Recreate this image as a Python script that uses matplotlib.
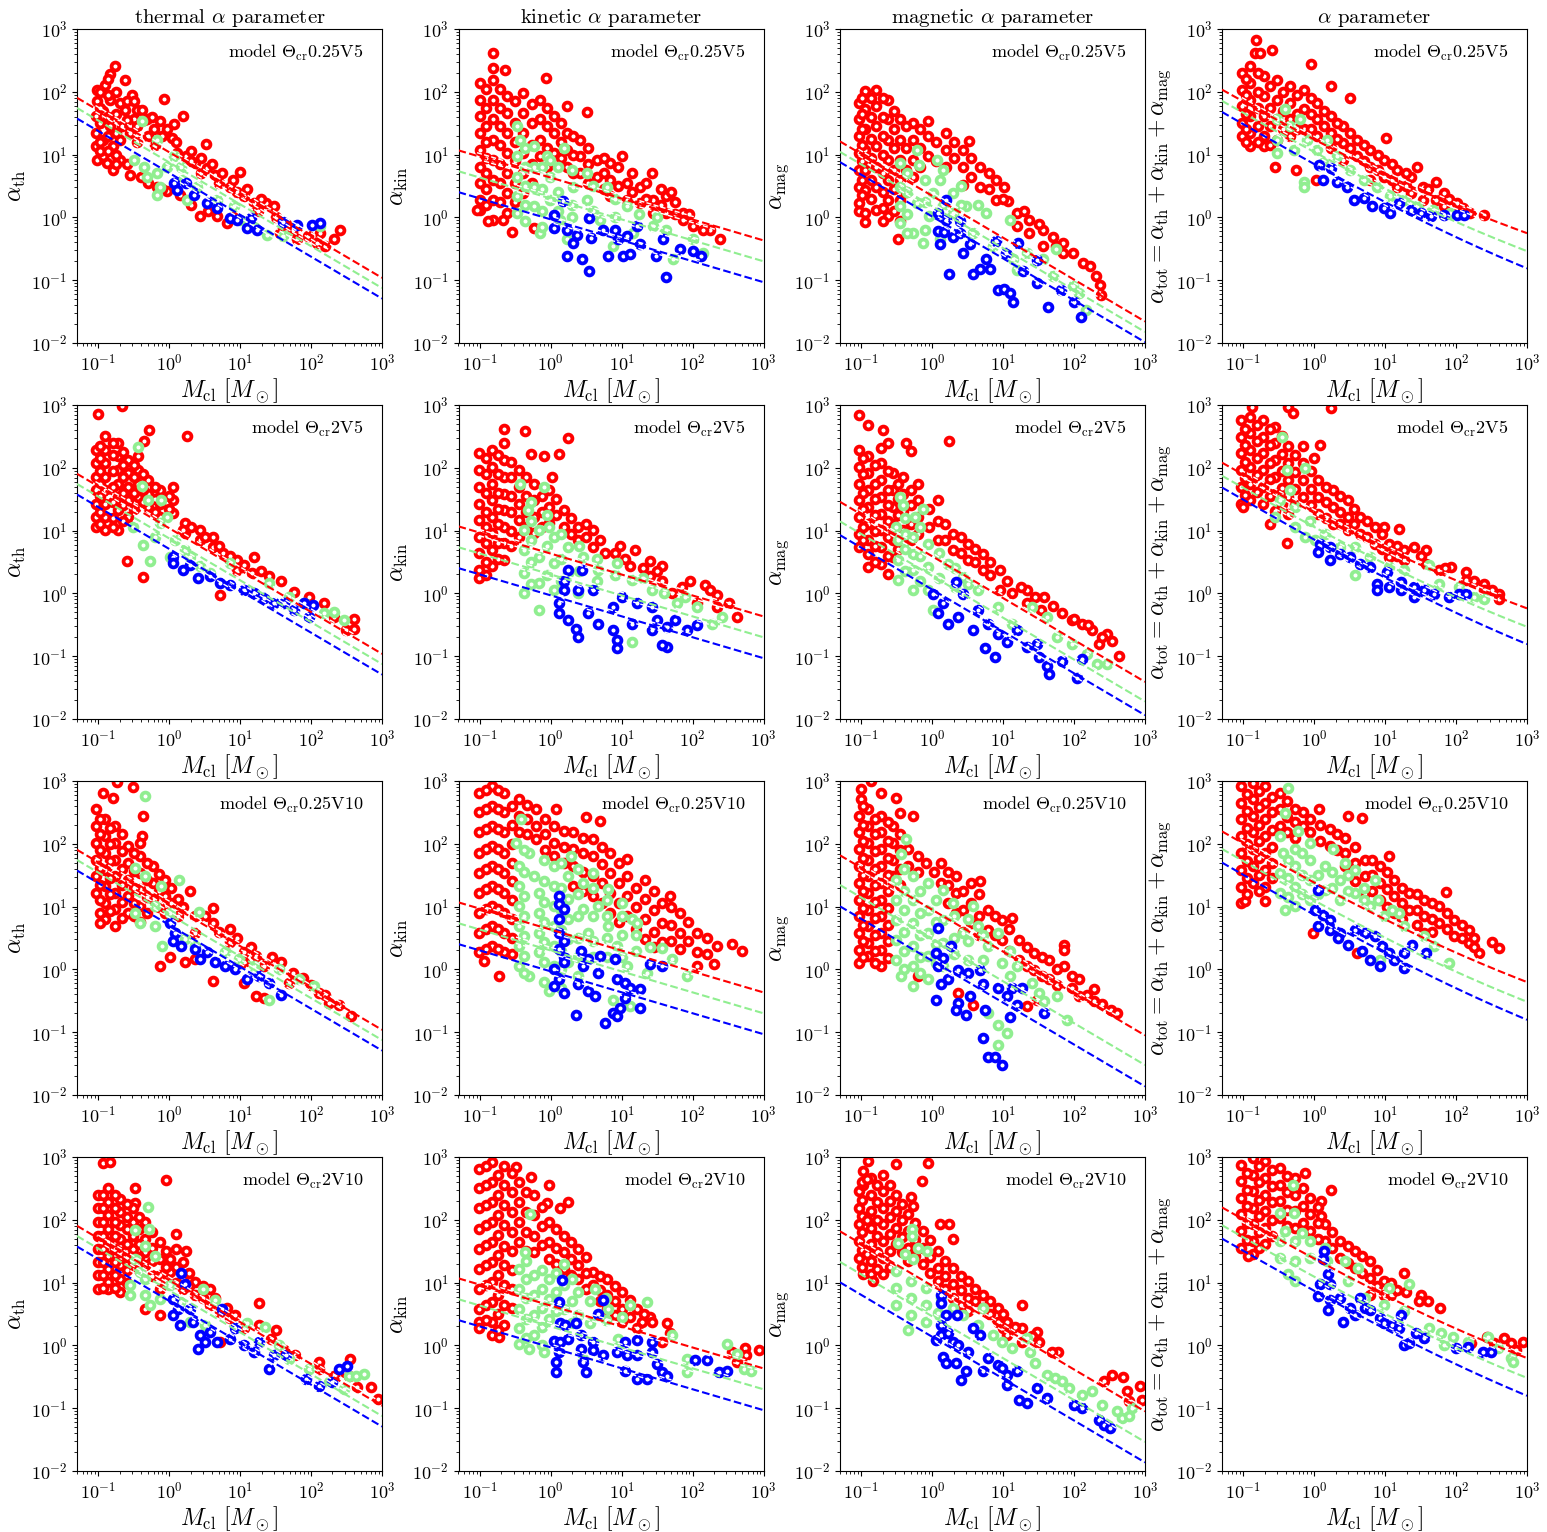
import numpy as np
import matplotlib
matplotlib.use('Agg')
import matplotlib.pyplot as plt

plt.rcParams['font.family'] = 'serif'
plt.rcParams['font.serif'] = ['cmr10']
plt.rcParams['mathtext.fontset'] = 'cm'
plt.rcParams['axes.formatter.use_mathtext'] = True

# 読み取ったデータ (log10 M, log10 alpha)
# ---- row 1 : model Theta_cr 0.25 V5
th1_red = [(-0.76,2.41),(-0.83,2.29),(-0.62,2.19),(-1.02,2.03),(-0.90,2.11),(-1.02,1.85),(-0.83,1.87),(-0.53,1.95),(-0.69,1.82),(-0.62,1.71),(-0.46,1.71),(-0.38,1.71),(-0.08,1.88),(0.20,1.61),(0.06,1.48),(-0.13,1.53),(-0.31,1.56),(-0.50,1.56),(-0.22,1.40),(-0.03,1.40),(0.04,1.26),(0.52,1.17),(-1.04,1.61),(-1.04,1.34),(-1.04,1.13),(-1.02,0.92),(-0.88,0.87),(-0.79,0.76),(-0.93,0.97),(-0.69,0.92),(-0.55,0.68),(-0.79,1.13),(-0.69,1.24),(-0.93,1.24),(-0.83,1.45),(-0.67,1.45),(0.11,1.03),(0.23,0.97),(0.37,0.87),(0.53,0.79),(0.65,0.68),(0.86,0.49),(1.00,0.73),(1.05,0.34),(1.19,0.23),(1.36,0.23),(1.47,0.18),(0.67,0.02),(1.56,-0.25),(1.80,-0.35),(2.08,-0.41),(2.32,-0.35),(2.41,-0.20),(1.75,-0.20),(2.13,-0.25),(-0.03,0.42),(-0.17,0.49),(0.44,0.02),(0.81,-0.09),(-0.93,1.70),(-0.55,1.35),(-0.45,1.20),(-0.30,1.30),(-0.20,1.15),(0.30,0.90),(0.45,0.70),(0.70,0.55),(0.95,0.40),(1.25,0.10),(1.50,0.00),(1.65,-0.10),(1.95,-0.30),(2.20,-0.45)]
th1_red_extra = [(-0.97,2.0),(-0.97,1.75),(-0.97,1.5),(-0.97,1.2),(-0.97,1.05),(-0.87,2.2),(-0.87,1.95),(-0.87,1.6),(-0.87,1.3),(-0.87,1.05),(-0.75,2.0),(-0.75,1.65),(-0.75,1.35),(-0.75,1.0),(-0.75,0.85),(-0.6,1.85),(-0.6,1.55),(-0.6,0.85),(-0.5,1.85),(-0.45,1.45),(-0.35,1.55),(-0.25,1.6),(-0.1,1.3),(0.1,1.2),(0.3,1.05),(0.45,0.95),(0.6,0.85),(0.75,0.7),(0.9,0.6),(1.1,0.45),(1.3,0.3),(-0.4,0.65),(-0.3,0.55),(-0.1,0.45),(0.15,0.35),(0.3,0.2),(0.55,0.1),(0.9,0.0)]
th1_green = [(-0.38,1.53),(-0.17,1.24),(-0.50,0.92),(-0.36,0.81),(-0.17,0.71),(-0.13,0.49),(-0.17,0.36),(-0.03,0.81),(-0.31,0.65),(0.20,0.60),(0.25,0.28),(0.39,0.49),(0.67,0.28),(0.91,0.18),(1.00,-0.04),(1.38,-0.28),(1.61,-0.30),(2.13,-0.14),(1.19,-0.14),(0.06,0.97),(0.16,0.81)]
th1_blue = [(0.06,0.55),(0.23,0.55),(0.11,0.44),(0.35,0.36),(0.53,0.23),(0.67,0.15),(0.86,-0.01),(0.96,-0.04),(1.10,-0.17),(1.15,-0.01),(1.24,-0.20),(1.61,-0.07),(1.80,-0.12),(2.01,-0.12),(2.13,-0.09)]

kin1_red = [(-0.82,2.61),(-0.82,2.38),(-0.64,2.35),(-0.07,2.22),(0.23,1.78),(0.51,1.68),
    (-1.0,2.14),(-1.0,1.87),(-1.0,1.61),(-1.0,1.34),(-1.0,1.08),(-1.0,0.81),(-1.0,0.55),(-1.0,0.28),(-1.0,0.12),
    (-0.81,2.19),(-0.81,1.87),(-0.81,1.56),(-0.81,1.24),(-0.81,0.92),(-0.81,0.60),(-0.81,0.28),(-0.81,-0.04),
    (-0.62,1.93),(-0.62,1.66),(-0.62,1.34),(-0.62,1.03),(-0.62,0.71),(-0.62,0.39),(-0.62,0.07),
    (-0.39,1.98),(-0.39,1.66),(-0.39,1.34),(-0.39,1.03),(-0.39,0.71),(-0.39,0.39),
    (-0.15,1.87),(-0.15,1.56),(-0.15,1.24),(-0.15,0.97),(0.04,1.61),(0.04,1.34),(0.04,1.03),
    (0.23,1.34),(0.23,1.08),(0.23,0.81),(0.41,1.24),(0.41,0.97),(0.41,0.71),(0.65,0.92),(0.65,0.65),
    (0.84,0.87),(0.84,0.60),(0.84,0.34),(1.01,0.97),(1.07,0.55),(1.07,0.28),(1.26,0.49),(1.26,0.23),
    (1.43,0.71),(1.44,0.28),(1.44,0.07),(1.63,0.34),(1.63,0.07),(1.70,0.40),(1.87,0.07),(1.87,-0.04),
    (2.01,-0.14),(2.24,-0.20),(2.38,-0.35),(-0.55,-0.24),(-0.88,-0.05),(-0.68,-0.04),(-0.24,-0.17),(-1.04,0.12)]
kin1_red_extra = [(-0.92,2.05),(-0.92,1.75),(-0.92,1.45),(-0.92,1.2),(-0.92,0.95),(-0.92,0.7),(-0.92,0.45),(-0.92,0.2),
    (-0.72,2.05),(-0.72,1.75),(-0.72,1.45),(-0.72,1.15),(-0.72,0.85),(-0.72,0.55),(-0.72,0.25),
    (-0.5,1.85),(-0.5,1.5),(-0.5,1.2),(-0.5,0.9),(-0.5,0.55),(-0.5,0.25),(-0.27,1.8),(-0.27,1.5),(-0.27,1.15),(-0.27,0.85),(-0.27,0.55),
    (-0.05,1.75),(-0.05,1.45),(-0.05,1.1),(-0.05,0.8),(0.14,1.5),(0.14,1.2),(0.14,0.95),(0.32,1.3),(0.32,1.0),(0.32,0.7),
    (0.53,1.1),(0.53,0.85),(0.53,0.55),(0.75,0.95),(0.75,0.7),(0.75,0.45),(0.95,0.8),(0.95,0.5),(1.15,0.7),(1.15,0.4),
    (1.35,0.55),(1.35,0.3),(1.55,0.45),(1.55,0.2),(1.75,0.25),(1.75,0.05),(1.95,0.05),(2.15,-0.2)]
kin1_green = [(-0.48,1.45),(-0.43,1.24),(-0.24,1.13),(-0.06,0.97),(0.18,1.11),(-0.48,0.97),(-0.48,0.65),(-0.48,0.34),(-0.48,0.07),(-0.24,0.81),(-0.24,0.49),(-0.24,0.18),(-0.15,-0.25),(-0.01,0.65),(-0.01,0.28),(0.13,-0.04),(0.23,-0.35),(0.32,0.49),(0.51,0.28),(0.69,-0.04),(0.88,-0.46),(1.07,0.18),(1.16,-0.25),(1.44,-0.14),(1.63,-0.20),(1.72,-0.67),(2.01,-0.35),(2.15,-0.57),(0.51,0.71),(0.79,0.49),(-0.01,0.92)]
kin1_green_extra = [(-0.36,1.1),(-0.36,0.8),(-0.36,0.5),(-0.36,0.2),(-0.36,-0.05),(-0.12,0.8),(-0.12,0.45),(-0.12,0.1),(-0.12,-0.15),(0.1,0.8),(0.1,0.4),(0.1,0.1),(0.3,0.75),(0.3,0.2),(0.3,0.0),(0.6,0.5),(0.6,0.1),(0.9,0.3),(0.9,0.0),(1.25,0.05),(1.5,0.0)]
kin1_blue = [(0.17,0.26),(0.04,0.04),(0.04,-0.17),(0.23,-0.20),(0.32,-0.41),(0.23,-0.62),(0.44,-0.67),(0.54,-0.86),(0.54,-0.01),(0.57,-0.33),(0.74,-0.20),(0.81,-0.61),(0.90,-0.20),(0.95,-0.35),(1.02,-0.62),(1.12,-0.59),(1.08,-0.29),(1.21,-0.13),(1.26,-0.43),(1.49,-0.61),(1.58,-0.35),(1.63,-0.95),(1.82,-0.51),(2.01,-0.54),(2.12,-0.61),(0.37,-0.28)]

mag1_red = [(-1.04,1.82),(-1.04,1.56),(-1.04,1.29),(-1.04,1.03),(-1.04,0.76),(-1.04,0.49),(-1.04,0.23),(-1.04,0.10),
    (-0.95,2.01),(-0.95,1.72),(-0.95,1.40),(-0.95,1.08),(-0.95,0.76),(-0.95,0.44),(-0.95,0.07),
    (-0.79,2.03),(-0.79,1.77),(-0.79,1.45),(-0.79,1.13),(-0.79,0.81),(-0.79,0.49),(-0.79,0.12),
    (-0.62,1.87),(-0.62,1.56),(-0.62,1.24),(-0.62,0.92),(-0.62,0.60),(-0.62,0.28),(-0.62,0.02),
    (-0.46,1.56),(-0.46,1.24),(-0.46,0.92),(-0.46,0.60),(-0.46,0.28),(-0.46,-0.06),
    (-0.27,1.50),(-0.27,1.24),(-0.27,0.92),(-0.27,0.65),(-0.06,1.53),(-0.06,1.29),(-0.06,0.97),
    (0.20,1.34),(0.20,1.08),(0.20,0.81),(0.44,1.08),(0.44,0.81),(0.44,0.52),(0.52,1.21),
    (0.67,0.81),(0.67,0.49),(0.90,0.60),(0.90,0.28),(1.01,0.48),(1.07,0.26),(1.19,0.07),(1.19,-0.14),
    (1.37,-0.04),(1.37,-0.25),(1.56,-0.20),(1.56,-0.46),(1.70,-0.31),(1.84,-0.41),(1.84,-0.57),(1.98,-0.57),
    (2.12,-0.73),(2.22,-0.78),(2.31,-0.94),(2.36,-1.07),(2.38,-1.23),(-0.95,-0.08),(-0.69,-0.06),(-0.48,-0.34)]
mag1_red_extra = [(-0.99,1.9),(-0.99,1.65),(-0.99,1.4),(-0.99,1.15),(-0.99,0.9),(-0.99,0.6),(-0.99,0.35),
    (-0.87,1.9),(-0.87,1.6),(-0.87,1.25),(-0.87,0.95),(-0.87,0.6),(-0.87,0.3),
    (-0.7,1.9),(-0.7,1.6),(-0.7,1.3),(-0.7,1.0),(-0.7,0.7),(-0.7,0.4),(-0.7,0.15),
    (-0.54,1.7),(-0.54,1.4),(-0.54,1.1),(-0.54,0.75),(-0.54,0.45),(-0.54,0.1),(-0.37,1.45),(-0.37,1.1),(-0.37,0.75),(-0.37,0.4),
    (-0.17,1.4),(-0.17,1.1),(-0.17,0.8),(0.05,1.2),(0.05,0.9),(0.3,1.2),(0.3,0.95),(0.55,0.95),(0.55,0.65),(0.8,0.7),(0.8,0.45),
    (1.0,0.3),(1.3,0.1),(1.5,-0.1),(1.75,-0.45)]
mag1_green = [(-0.22,1.08),(-0.46,0.87),(-0.18,0.84),(0.06,0.92),(0.11,0.60),(-0.46,0.49),(-0.46,0.18),(-0.46,-0.09),(-0.27,-0.25),(-0.13,-0.41),(-0.22,0.23),(-0.04,0.02),(0.01,0.39),(0.29,0.39),(0.29,0.07),(0.48,0.18),(0.57,-0.25),(0.76,0.07),(0.86,-0.46),(1.09,-0.04),(1.14,-0.67),(1.19,-0.83),(1.33,-0.57),(1.56,-0.67),(1.75,-0.51),(1.70,-0.94),(1.98,-1.10),(2.07,-1.20),(2.17,-1.47),(0.11,-0.35),(-0.36,-0.25)]
mag1_green_extra = [(-0.35,0.7),(-0.35,0.4),(-0.35,0.05),(-0.1,0.6),(-0.1,0.25),(-0.1,-0.2),(0.15,0.75),(0.15,0.2),(0.4,0.5),(0.4,0.2),(0.65,0.2)]
mag1_blue = [(0.20,0.28),(0.08,0.07),(0.20,-0.04),(0.39,-0.06),(0.08,-0.22),(0.16,-0.24),(0.11,-0.43),(0.29,-0.31),(0.39,-0.25),(0.24,-0.90),(0.44,-0.57),(0.53,-0.43),(0.57,-0.90),(0.67,-0.82),(0.76,-0.67),(0.81,-0.82),(0.90,-0.38),(0.93,-1.15),(1.01,-1.14),(1.04,-0.56),(1.09,-1.20),(1.14,-1.34),(1.21,-0.41),(1.28,-0.86),(1.47,-1.04),(1.63,-1.42),(1.82,-1.15),(2.00,-1.34),(2.10,-1.58),(1.47,-0.68)]

tot1_red = [(-0.82,2.83),(-0.83,2.62),(-0.60,2.67),(-0.76,2.61),(-0.05,2.44),(0.23,2.09),(0.51,1.90),(1.01,1.26),
    (-1.02,2.30),(-1.02,2.03),(-1.02,1.77),(-1.02,1.50),(-1.02,1.29),
    (-0.90,2.41),(-0.90,2.14),(-0.90,1.87),(-0.90,1.61),(-0.90,1.34),(-0.90,1.13),
    (-0.71,2.25),(-0.71,1.93),(-0.71,1.61),(-0.71,1.29),(-0.71,1.13),
    (-0.53,2.19),(-0.53,1.87),(-0.53,1.56),(-0.53,1.24),(-0.34,2.09),(-0.34,1.82),(-0.34,1.56),(-0.34,1.29),
    (-0.15,2.03),(-0.15,1.72),(-0.15,1.40),(0.04,1.82),(0.04,1.56),(0.04,1.29),(0.23,1.61),(0.23,1.34),(0.23,1.11),
    (0.41,1.45),(0.41,1.18),(0.41,0.92),(0.60,1.24),(0.60,0.97),(0.79,1.08),(0.79,0.81),(0.79,0.60),
    (0.98,0.92),(0.98,0.65),(1.17,0.76),(1.17,0.49),(1.36,0.65),(1.36,0.39),(1.45,0.81),(1.54,0.49),(1.54,0.28),
    (1.71,0.57),(1.71,0.28),(1.83,0.39),(1.83,0.18),(2.01,0.23),(2.01,0.07),(2.20,0.07),(2.39,0.04),
    (-0.55,0.81),(-0.26,0.75),(0.02,0.60)]
tot1_red_extra = [(-0.96,2.2),(-0.96,1.95),(-0.96,1.65),(-0.96,1.4),(-0.96,1.2),(-0.8,2.3),(-0.8,2.0),(-0.8,1.75),(-0.8,1.45),(-0.8,1.2),
    (-0.62,2.1),(-0.62,1.75),(-0.62,1.45),(-0.62,1.15),(-0.44,2.0),(-0.44,1.7),(-0.44,1.4),(-0.25,1.95),(-0.25,1.65),(-0.25,1.4),
    (-0.05,1.9),(-0.05,1.65),(-0.05,1.4),(0.14,1.7),(0.14,1.45),(0.32,1.5),(0.32,1.25),(0.5,1.35),(0.5,1.1),(0.7,1.15),(0.7,0.9),
    (0.9,1.0),(0.9,0.75),(1.1,0.85),(1.1,0.6),(1.3,0.7),(1.3,0.5),(1.6,0.45),(1.9,0.3),(2.1,0.15)]
tot1_green = [(-0.41,1.72),(-0.53,1.56),(-0.53,1.24),(-0.53,1.03),(-0.34,1.45),(-0.20,1.56),(-0.29,1.08),(-0.10,1.24),(-0.15,0.57),(-0.15,0.48),(0.04,1.08),(0.18,1.24),(0.13,0.87),(0.32,0.97),(0.51,0.76),(0.70,0.60),(0.89,0.49),(1.07,0.34),(1.26,0.28),(1.45,0.18),(1.68,0.12),(1.92,0.07)]
tot1_blue = [(0.06,0.84),(0.23,0.79),(0.13,0.60),(0.32,0.57),(0.46,0.49),(0.56,0.28),(0.70,0.31),(0.81,0.18),(0.98,0.15),(1.07,0.07),(1.19,0.23),(1.36,0.12),(1.50,0.07),(1.64,0.02),(1.83,0.04),(2.01,0.04),(2.11,0.04)]

# ---- row 2 : model Theta_cr 2 V5
th2_red = [(-1.01,2.86),(-0.67,2.99),(-0.29,2.60),(0.25,2.50),(-0.36,2.43),
    (-1.04,2.28),(-1.04,2.07),(-1.04,1.86),(-1.04,1.65),(-1.04,1.43),(-1.04,1.22),(-1.04,1.06),
    (-0.90,2.50),(-0.90,2.28),(-0.90,2.07),(-0.90,1.86),(-0.90,1.65),(-0.90,1.43),(-0.90,1.22),(-0.90,1.01),
    (-0.72,2.39),(-0.72,2.18),(-0.72,1.96),(-0.72,1.75),(-0.72,1.54),(-0.72,1.33),(-0.72,1.01),
    (-0.58,2.12),(-0.58,1.91),(-0.58,1.70),(-0.58,1.49),(-0.58,1.22),(-0.44,2.18),(-0.44,1.96),(-0.44,1.75),(-0.44,1.54),
    (-0.30,1.81),(-0.30,1.59),(-0.30,1.38),(-0.13,1.65),(-0.13,1.43),(-0.13,1.22),(0.05,1.70),(0.05,1.49),(0.05,1.28),
    (0.22,1.12),(0.22,0.96),(0.43,1.01),(0.43,0.85),(0.61,0.90),(0.61,0.74),(0.76,0.65),(0.95,0.53),(0.95,0.37),
    (1.20,0.58),(1.16,0.32),(1.41,0.27),(1.58,0.20),(1.76,0.03),(1.97,-0.05),(2.18,-0.16),(2.32,-0.37),(2.49,-0.58),
    (2.60,-0.41),(2.60,-0.56),(-0.60,0.52),(-0.37,0.26),(0.71,-0.02),(0.19,1.01)]
th2_red_extra = [(-0.97,2.35),(-0.97,2.15),(-0.97,1.95),(-0.97,1.75),(-0.97,1.55),(-0.97,1.3),(-0.97,1.1),
    (-0.8,2.4),(-0.8,2.2),(-0.8,1.95),(-0.8,1.7),(-0.8,1.45),(-0.8,1.2),(-0.8,1.05),
    (-0.65,2.25),(-0.65,2.05),(-0.65,1.85),(-0.65,1.6),(-0.65,1.4),(-0.65,1.15),(-0.5,2.05),(-0.5,1.85),(-0.5,1.6),(-0.5,1.35),
    (-0.37,1.9),(-0.37,1.65),(-0.37,1.45),(-0.2,1.7),(-0.2,1.5),(-0.2,1.3),(0.0,1.55),(0.0,1.35),(0.3,1.05),(0.5,0.9),(0.7,0.75),(0.85,0.6),(1.05,0.45),(1.3,0.35)]
th2_green = [(-0.44,2.33),(-0.39,1.71),(-0.30,1.49),(-0.12,1.49),(-0.03,1.22),(-0.51,1.06),(-0.37,0.77),(-0.27,0.51),(-0.13,1.12),(-0.20,0.90),(0.08,0.85),(0.29,0.58),(0.43,0.43),(0.57,0.32),(0.85,0.48),(1.41,0.16),(1.69,-0.05),(1.90,-0.16),(2.18,-0.32),(2.32,-0.29),(2.46,-0.42),(0.22,0.69),(0.01,0.58)]
th2_blue = [(0.05,0.58),(0.05,0.48),(0.19,0.37),(0.29,0.45),(0.40,0.24),(0.57,0.27),(0.71,0.16),(0.85,0.13),(1.06,0.05),(1.20,0.00),(1.34,-0.08),(1.48,-0.16),(1.62,-0.16),(1.76,-0.26),(1.90,-0.16),(2.03,-0.18),(1.97,-0.37)]

kin2_red = [(-0.66,2.62),(-0.37,2.58),(0.25,2.48),(0.11,2.22),(-0.09,2.18),(-0.28,2.22),(0.02,1.85),
    (-1.01,2.23),(-1.01,1.96),(-1.01,1.70),(-1.01,1.43),(-1.01,1.17),(-1.01,0.90),(-1.01,0.64),(-1.01,0.37),(-1.01,0.25),
    (-0.83,2.28),(-0.83,2.02),(-0.83,1.75),(-0.83,1.49),(-0.83,1.22),(-0.83,0.96),(-0.83,0.69),(-0.83,0.43),
    (-0.66,2.39),(-0.66,2.12),(-0.66,1.86),(-0.66,1.59),(-0.66,1.33),(-0.66,1.06),(-0.66,0.80),(-0.66,0.53),
    (-0.45,1.96),(-0.45,1.70),(-0.45,1.43),(-0.45,1.17),(-0.45,0.90),(-0.24,1.75),(-0.24,1.49),(-0.24,1.22),(-0.24,0.96),
    (-0.03,1.65),(-0.03,1.38),(-0.03,1.12),(0.18,1.33),(0.18,1.06),(0.39,1.06),(0.39,0.85),(0.60,1.01),(0.60,0.74),
    (0.77,0.64),(0.98,0.75),(1.19,0.69),(1.12,0.43),(1.40,0.51),(1.40,0.27),(1.57,0.43),(1.57,0.19),(1.71,0.00),
    (1.96,0.19),(2.17,0.14),(2.34,-0.03),(2.51,-0.16),(2.62,-0.37),(2.34,-0.21),(2.06,-0.16)]
kin2_red_extra = [(-0.92,2.15),(-0.92,1.9),(-0.92,1.6),(-0.92,1.3),(-0.92,1.05),(-0.92,0.8),(-0.92,0.5),(-0.92,0.3),
    (-0.75,2.2),(-0.75,1.9),(-0.75,1.6),(-0.75,1.35),(-0.75,1.1),(-0.75,0.8),(-0.75,0.55),
    (-0.56,2.1),(-0.56,1.85),(-0.56,1.55),(-0.56,1.3),(-0.56,1.0),(-0.56,0.75),(-0.35,1.85),(-0.35,1.55),(-0.35,1.3),(-0.35,1.05),
    (-0.13,1.55),(-0.13,1.3),(-0.13,1.05),(0.08,1.5),(0.08,1.25),(0.28,1.2),(0.28,0.95),(0.5,1.1),(0.5,0.9),(0.7,0.85),(0.9,0.65),
    (1.05,0.55),(1.3,0.4),(1.5,0.35),(1.85,0.1),(2.25,0.05)]
kin2_green = [(-0.43,1.75),(-0.10,1.70),(-0.32,1.33),(-0.38,1.01),(-0.38,0.69),(-0.38,0.32),(-0.38,0.00),(-0.17,-0.26),(-0.17,1.01),(-0.17,0.58),(-0.17,0.16),(0.04,0.90),(0.04,0.48),(0.04,0.05),(0.25,0.74),(0.25,0.32),(0.46,0.58),(0.67,0.37),(0.94,0.48),(1.15,0.21),(1.43,0.05),(1.15,-0.77),(1.78,-0.16),(2.06,-0.21),(2.27,-0.48),(2.41,-0.37),(0.39,0.00),(-0.03,1.06)]
kin2_green_extra = [(-0.28,1.45),(-0.28,1.15),(-0.28,0.85),(-0.28,0.5),(-0.28,0.15),(-0.06,1.25),(-0.06,0.75),(-0.06,0.3),(0.15,0.95),(0.15,0.55),(0.15,0.2),(0.4,0.75),(0.4,0.35),(0.65,0.55),(0.65,0.2),(0.9,0.3),(1.3,0.25),(1.6,0.0),(1.9,-0.05)]
kin2_blue = [(0.25,0.37),(0.44,0.37),(0.18,0.19),(0.18,0.05),(0.39,0.05),(0.60,0.05),(0.11,-0.16),(0.11,-0.32),(0.25,-0.42),(0.36,-0.56),(0.39,-0.69),(0.53,-0.32),(0.67,-0.48),(0.88,-0.58),(0.94,-0.74),(0.94,-0.87),(1.01,-0.05),(1.15,-0.48),(1.22,-0.16),(1.43,-0.58),(1.50,-0.42),(1.64,-0.53),(1.64,-0.85),(1.75,-0.42),(1.92,-0.58),(2.06,-0.50),(1.57,-0.82),(1.43,-0.21),(0.88,-0.21)]

mag2_red = [(-1.04,2.84),(-0.90,2.68),(-0.69,2.60),(-0.62,2.39),(-0.37,2.39),(-0.30,2.26),(0.24,2.43),(-0.72,2.31),
    (-1.04,2.28),(-1.04,2.02),(-1.04,1.75),(-1.04,1.48),(-1.04,1.22),(-1.04,0.95),(-1.04,0.74),
    (-0.90,2.18),(-0.90,1.91),(-0.90,1.64),(-0.90,1.38),(-0.90,1.11),(-0.90,0.85),(-0.90,0.63),(-0.90,0.42),
    (-0.72,2.07),(-0.72,1.80),(-0.72,1.54),(-0.72,1.27),(-0.72,1.01),(-0.72,0.74),(-0.72,0.47),
    (-0.55,1.91),(-0.55,1.64),(-0.55,1.38),(-0.55,1.11),(-0.55,0.85),(-0.55,0.58),(-0.62,0.31),
    (-0.41,1.86),(-0.41,1.59),(-0.41,1.32),(-0.41,1.01),(-0.41,0.79),(-0.20,1.75),(-0.20,1.48),(-0.20,1.22),(-0.20,0.95),
    (0.08,1.48),(0.08,1.16),(0.08,0.85),(0.29,0.95),(0.29,0.69),(0.50,0.79),(0.50,0.53),(0.71,0.63),(0.71,0.37),
    (0.95,0.37),(0.95,0.05),(1.13,0.00),(1.34,0.05),(1.34,-0.16),(1.58,-0.06),(1.83,-0.32),(1.97,-0.43),(2.11,-0.48),
    (2.25,-0.59),(2.46,-0.64),(2.53,-0.75),(2.63,-0.99),(2.35,-0.80),(1.54,-0.27)]
mag2_red_extra = [(-0.97,2.15),(-0.97,1.9),(-0.97,1.6),(-0.97,1.35),(-0.97,1.05),(-0.97,0.85),
    (-0.81,2.05),(-0.81,1.75),(-0.81,1.5),(-0.81,1.25),(-0.81,1.0),(-0.81,0.75),(-0.81,0.5),
    (-0.63,1.95),(-0.63,1.65),(-0.63,1.4),(-0.63,1.15),(-0.63,0.9),(-0.63,0.6),(-0.48,1.75),(-0.48,1.5),(-0.48,1.25),(-0.48,0.95),(-0.48,0.7),
    (-0.3,1.65),(-0.3,1.4),(-0.3,1.1),(-0.3,0.85),(-0.05,1.35),(-0.05,1.05),(0.18,1.1),(0.18,0.85),(0.4,0.9),(0.4,0.65),(0.6,0.7),(0.6,0.5),
    (0.82,0.5),(0.82,0.3),(1.05,0.2),(1.25,0.1),(1.45,-0.05),(1.7,-0.2),(2.0,-0.4),(2.2,-0.5),(2.4,-0.7)]
mag2_green = [(-0.46,1.54),(-0.41,1.40),(-0.25,1.22),(-0.13,1.35),(-0.51,1.06),(-0.48,0.85),(-0.48,0.53),(-0.48,0.21),(-0.27,0.90),(-0.27,0.63),(-0.27,0.37),(-0.27,0.05),(-0.06,0.79),(-0.06,0.42),(-0.06,0.05),(0.01,-0.27),(0.22,0.47),(0.43,0.26),(0.64,0.05),(0.92,-0.22),(1.13,-0.48),(1.41,-0.22),(1.62,-0.38),(1.76,-0.70),(1.97,-0.80),(2.18,-0.96),(2.32,-1.12),(2.46,-1.12),(0.50,0.15)]
mag2_green_extra = [(-0.38,1.2),(-0.38,0.95),(-0.38,0.7),(-0.38,0.35),(-0.17,1.05),(-0.17,0.6),(-0.17,0.2),(0.1,0.65),(0.1,0.25),(0.32,0.4),(0.32,0.1)]
mag2_blue = [(0.33,0.18),(0.01,-0.01),(0.15,-0.16),(0.43,-0.01),(0.08,-0.32),(0.22,-0.48),(0.36,-0.38),(0.57,-0.59),(0.64,-0.27),(0.78,-0.48),(0.92,-0.64),(0.74,-0.87),(0.88,-1.01),(1.06,-0.78),(1.20,-0.59),(1.34,-0.86),(1.51,-1.02),(1.62,-1.15),(1.65,-1.28),(1.83,-1.07),(2.11,-1.04),(2.04,-1.34),(1.48,-0.80)]

tot2_red = [(-0.88,2.97),(-0.37,2.97),(-0.30,2.87),(0.24,2.95),(0.08,2.36),(0.00,2.15),(0.99,1.06),(1.20,1.03),
    (-1.04,2.76),(-1.04,2.49),(-1.04,2.23),(-1.04,1.96),(-1.04,1.70),(-1.04,1.43),
    (-0.90,2.81),(-0.90,2.55),(-0.90,2.28),(-0.90,2.02),(-0.90,1.75),(-0.90,1.48),
    (-0.72,2.76),(-0.72,2.49),(-0.72,2.23),(-0.72,1.96),(-0.72,1.70),(-0.72,1.43),
    (-0.55,2.65),(-0.55,2.39),(-0.55,2.12),(-0.55,1.86),(-0.55,1.59),(-0.55,1.32),
    (-0.37,2.34),(-0.37,2.07),(-0.37,1.80),(-0.37,1.54),(-0.37,1.27),(-0.16,2.34),(-0.16,2.07),(-0.16,1.80),(-0.16,1.54),
    (0.05,1.80),(0.05,1.54),(0.05,1.27),(0.26,1.64),(0.26,1.38),(0.26,1.11),(0.47,1.48),(0.47,1.22),(0.47,1.01),
    (0.64,1.22),(0.64,0.95),(0.85,1.06),(0.85,0.79),(1.06,0.79),(1.06,0.58),(1.27,0.69),(1.27,0.53),(1.41,0.74),
    (1.58,0.69),(1.58,0.47),(1.76,0.37),(1.93,0.42),(2.14,0.34),(2.14,0.21),(2.39,0.15),(2.39,0.05),(2.60,-0.01),(2.60,-0.09),
    (-0.39,0.80),(-0.62,1.11),(-1.00,1.38)]
tot2_red_extra = [(-0.97,2.62),(-0.97,2.36),(-0.97,2.1),(-0.97,1.83),(-0.97,1.57),(-0.81,2.68),(-0.81,2.42),(-0.81,2.15),(-0.81,1.88),(-0.81,1.62),
    (-0.63,2.62),(-0.63,2.36),(-0.63,2.08),(-0.63,1.82),(-0.63,1.55),(-0.46,2.5),(-0.46,2.22),(-0.46,1.95),(-0.46,1.68),(-0.46,1.42),
    (-0.27,2.2),(-0.27,1.93),(-0.27,1.67),(-0.27,1.4),(-0.05,1.95),(-0.05,1.67),(-0.05,1.4),(0.16,1.7),(0.16,1.45),(0.16,1.2),
    (0.37,1.55),(0.37,1.3),(0.37,1.1),(0.56,1.35),(0.56,1.1),(0.75,1.15),(0.75,0.9),(0.95,0.95),(0.95,0.7),(1.17,0.75),(1.17,0.6),
    (1.5,0.6),(1.85,0.4),(2.25,0.2),(2.5,0.05)]
tot2_green = [(-0.46,2.49),(-0.38,1.96),(-0.13,2.00),(-0.34,1.64),(-0.48,1.48),(-0.55,1.22),(-0.27,1.38),(-0.27,1.06),(-0.06,1.16),(-0.13,0.90),(0.15,0.95),(0.36,0.74),(0.57,0.74),(0.78,0.58),(1.06,0.42),(1.27,0.37),(1.62,0.45),(1.76,0.15),(2.04,0.10),(2.25,-0.06),(2.39,-0.09),(0.57,0.29),(0.01,0.85)]
tot2_blue = [(0.08,0.79),(0.22,0.74),(0.05,0.66),(0.36,0.63),(0.50,0.58),(0.22,0.53),(0.64,0.47),(0.78,0.42),(1.02,0.34),(0.88,0.15),(0.88,0.05),(1.06,0.10),(1.23,0.18),(1.23,0.05),(1.41,0.10),(1.41,-0.06),(1.55,0.05),(1.69,-0.01),(1.90,-0.06),(2.04,-0.01),(2.14,-0.01)]

# ---- row 3 : model Theta_cr 0.25 V10
th3_red = [(-0.74,2.98),(-0.51,2.91),(-0.93,2.81),(-0.79,2.73),(-0.37,2.44),(-0.39,2.12),(-0.41,2.02),
    (-1.04,2.55),(-1.04,2.28),(-1.04,2.02),(-1.04,1.75),(-1.04,1.49),(-1.04,1.22),
    (-0.90,2.39),(-0.90,2.12),(-0.90,1.86),(-0.90,1.59),(-0.90,1.33),(-0.90,1.06),(-0.90,0.80),(-0.97,0.74),
    (-0.76,2.28),(-0.76,2.02),(-0.76,1.75),(-0.76,1.49),(-0.76,1.22),(-0.76,0.96),(-0.76,0.69),
    (-0.58,1.96),(-0.58,1.70),(-0.58,1.43),(-0.58,1.17),(-0.58,0.90),(-0.41,1.81),(-0.41,1.54),(-0.41,1.28),(-0.41,1.01),(-0.41,0.75),
    (-0.23,1.65),(-0.23,1.38),(-0.23,1.12),(-0.06,1.43),(-0.06,1.17),(-0.06,0.90),(0.12,1.12),(0.12,0.85),(0.29,1.25),
    (0.36,0.85),(0.36,0.58),(0.36,0.16),(0.61,0.98),(0.61,0.74),(0.61,-0.19),(0.85,0.64),(0.85,0.43),
    (1.06,0.27),(1.06,0.11),(1.06,-0.21),(1.23,0.21),(1.23,-0.42),(1.34,0.05),(1.34,-0.45),(1.58,0.11),(1.69,-0.21),
    (1.88,-0.13),(2.11,-0.37),(2.25,-0.53),(2.39,-0.56),(2.56,-0.74),(-0.13,0.05),(0.01,0.19),(0.22,0.11)]
th3_red_extra = [(-0.97,2.4),(-0.97,2.15),(-0.97,1.9),(-0.97,1.62),(-0.97,1.35),(-0.97,1.1),(-0.97,0.9),
    (-0.83,2.25),(-0.83,2.0),(-0.83,1.72),(-0.83,1.46),(-0.83,1.2),(-0.83,0.93),(-0.67,2.15),(-0.67,1.88),(-0.67,1.6),(-0.67,1.35),(-0.67,1.08),(-0.67,0.82),
    (-0.5,1.85),(-0.5,1.56),(-0.5,1.3),(-0.5,1.05),(-0.5,0.85),(-0.32,1.7),(-0.32,1.42),(-0.32,1.15),(-0.32,0.9),(-0.15,1.52),(-0.15,1.25),(-0.15,1.0),
    (0.03,1.3),(0.03,1.05),(0.2,1.0),(0.5,0.85),(0.7,0.6),(0.95,0.5),(1.15,0.35),(1.45,0.2),(1.75,-0.05),(2.0,-0.25),(2.2,-0.4)]
th3_green = [(-0.34,2.76),(-0.49,1.62),(-0.34,1.49),(-0.11,1.33),(0.14,1.43),(0.42,0.92),(-0.48,0.90),(-0.41,0.74),(-0.20,0.69),(-0.20,1.01),(0.01,0.90),(-0.10,0.37),(0.08,0.58),(0.22,0.48),(0.36,0.37),(0.78,0.27),(0.99,0.16),(1.20,0.05),(1.55,0.00),(1.83,-0.16),(2.04,-0.27),(1.41,-0.48)]
th3_blue = [(0.01,0.74),(0.08,0.58),(0.05,0.45),(0.16,0.37),(0.36,0.32),(0.53,0.27),(0.43,0.16),(0.64,0.11),(0.78,0.05),(0.92,0.00),(1.09,-0.16),(1.27,-0.10),(1.41,-0.21),(1.58,-0.40)]

kin3_red = [(0.07,2.55),(0.70,2.37),(0.49,2.42),(-0.73,-0.11),(-0.94,0.13),(1.08,1.76),(1.68,1.17),
    (-1.01,2.81),(-1.01,2.50),(-1.01,2.18),(-1.01,1.86),(-1.01,1.54),(-1.01,1.22),(-1.01,0.90),(-1.01,0.58),(-1.01,0.27),
    (-0.83,2.92),(-0.83,2.60),(-0.83,2.28),(-0.83,1.96),(-0.83,1.65),(-0.83,1.33),(-0.83,1.01),(-0.83,0.69),(-0.83,0.37),
    (-0.66,2.81),(-0.66,2.50),(-0.66,2.18),(-0.66,1.86),(-0.66,1.54),(-0.66,1.22),(-0.66,0.90),(-0.66,0.58),(-0.66,0.27),
    (-0.45,2.71),(-0.45,2.44),(-0.45,2.18),(-0.21,2.55),(-0.21,2.28),(-0.21,2.07),(0.04,2.28),(0.04,2.02),(0.04,1.81),
    (0.32,2.18),(0.32,1.91),(0.32,1.65),(0.32,1.33),(0.60,2.07),(0.60,1.81),(0.60,1.49),(0.60,1.17),
    (0.84,1.86),(0.84,1.54),(0.84,1.22),(0.84,0.90),(1.08,1.49),(1.08,1.17),(1.08,0.85),
    (1.33,1.43),(1.33,1.12),(1.33,0.80),(1.33,0.48),(1.57,1.06),(1.57,0.74),(1.57,0.43),
    (1.82,0.90),(1.82,0.58),(1.82,0.32),(2.06,0.58),(2.06,0.27),(2.34,0.37),(2.55,0.40),(2.69,0.29),(2.30,0.08),(2.06,0.05)]
kin3_red_extra = [(-0.92,2.86),(-0.92,2.55),(-0.92,2.24),(-0.92,1.92),(-0.92,1.6),(-0.92,1.28),(-0.92,0.96),(-0.92,0.64),(-0.92,0.32),
    (-0.75,2.86),(-0.75,2.55),(-0.75,2.24),(-0.75,1.92),(-0.75,1.6),(-0.75,1.28),(-0.75,0.96),(-0.75,0.64),(-0.75,0.32),
    (-0.55,2.6),(-0.55,2.3),(-0.55,2.0),(-0.55,1.7),(-0.55,1.4),(-0.55,1.1),(-0.55,0.8),(-0.55,0.5),(-0.55,0.25),
    (-0.33,2.62),(-0.33,2.4),(-0.33,2.15),(-0.08,2.4),(-0.08,2.15),(-0.08,1.9),(0.18,2.2),(0.18,1.95),(0.18,1.7),
    (0.46,2.1),(0.46,1.85),(0.46,1.55),(0.46,1.25),(0.72,1.95),(0.72,1.68),(0.72,1.38),(0.72,1.06),(0.96,1.7),(0.96,1.38),(0.96,1.05),(0.96,0.75),
    (1.2,1.3),(1.2,1.0),(1.2,0.65),(1.45,1.25),(1.45,0.95),(1.45,0.6),(1.45,0.35),(1.7,1.0),(1.7,0.7),(1.7,0.45),(1.94,0.75),(1.94,0.45),(2.2,0.5),(2.2,0.25)]
kin3_green = [(-0.42,2.39),(0.28,1.81),(-0.49,2.02),(-0.31,1.86),(-0.45,1.65),(-0.24,1.49),(-0.45,1.33),(-0.45,1.01),(-0.45,0.69),(-0.45,0.37),(-0.45,0.05),(-0.31,-0.11),(-0.17,1.22),(-0.17,0.90),(-0.17,0.58),(-0.17,0.27),(0.04,1.65),(0.04,1.33),(0.04,1.01),(0.04,0.69),(0.04,0.37),(0.04,0.05),(-0.03,-0.35),(0.25,1.49),(0.25,1.12),(0.25,0.80),(0.25,0.48),(0.25,0.11),(0.46,1.38),(0.60,1.54),(0.46,0.96),(0.67,1.01),(0.53,0.58),(0.81,0.69),(0.81,1.28),(0.94,0.37),(1.01,1.06),(1.15,0.80),(1.22,0.74),(1.08,0.05),(1.12,-0.59),(1.36,-0.05),(1.57,0.34),(1.71,0.16),(1.92,-0.11),(0.88,-0.48)]
kin3_green_extra = [(-0.38,1.9),(-0.38,1.55),(-0.38,1.17),(-0.38,0.85),(-0.38,0.53),(-0.38,0.21),(-0.38,-0.05),
    (-0.1,1.75),(-0.1,1.4),(-0.1,1.08),(-0.1,0.75),(-0.1,0.43),(-0.1,0.12),(-0.1,-0.2),(0.15,1.7),(0.15,1.3),(0.15,0.95),(0.15,0.62),(0.15,0.3),(0.15,0.0),(0.15,-0.3),
    (0.38,1.6),(0.38,1.2),(0.38,0.85),(0.38,0.5),(0.38,0.2),(0.38,-0.1),(0.6,1.3),(0.6,0.85),(0.6,0.45),(0.6,0.2),(0.8,1.1),(0.8,0.85),(0.8,0.5),(0.8,0.2),
    (1.0,0.85),(1.0,0.55),(1.0,0.2),(1.2,0.55),(1.2,0.3),(1.4,0.35)]
kin3_blue = [(0.11,1.17),(0.11,1.04),(0.18,0.96),(0.11,0.80),(0.11,0.58),(0.18,0.45),(0.11,0.32),(0.18,0.19),(0.18,0.11),(0.42,0.29),(0.53,0.16),(0.04,0.00),(0.11,-0.16),(0.18,-0.37),(0.04,-0.27),(0.39,-0.24),(0.53,-0.35),(0.63,-0.43),(0.70,0.21),(0.46,0.05),(0.67,-0.05),(0.91,0.17),(0.94,-0.16),(1.05,-0.21),(1.12,-0.29),(1.26,-0.32),(1.04,-0.45),(0.98,-0.61),(0.88,-0.69),(0.94,-0.74),(0.77,-0.85),(0.35,-0.72),(1.26,-0.62),(1.40,0.08),(1.57,0.05)]

mag3_red = [(-0.86,3.0),(-1.01,2.87),(-0.72,2.81),(-0.51,2.73),(-0.27,2.44),(-0.46,2.49),(-1.00,2.71),
    (-1.04,2.44),(-1.04,2.18),(-1.04,1.91),(-1.04,1.64),(-1.04,1.38),(-1.04,1.11),(-1.04,0.85),(-1.04,0.58),(-1.04,0.31),(-1.04,0.10),
    (-0.90,2.55),(-0.90,2.28),(-0.90,2.02),(-0.90,1.75),(-0.90,1.48),(-0.90,1.22),(-0.90,0.95),(-0.90,0.69),(-0.90,0.42),(-0.90,0.21),
    (-0.72,2.44),(-0.72,2.18),(-0.72,1.91),(-0.72,1.64),(-0.72,1.38),(-0.72,1.11),(-0.72,0.85),(-0.72,0.58),(-0.72,0.31),(-0.72,0.05),
    (-0.55,2.28),(-0.55,2.02),(-0.55,1.75),(-0.55,1.48),(-0.34,1.91),(-0.34,1.64),(-0.09,1.70),(0.12,1.70),(0.12,1.38),
    (0.33,1.48),(0.33,1.22),(0.33,0.90),(0.54,1.38),(0.54,1.06),(0.54,0.74),(0.68,1.40),(0.78,0.95),(0.78,0.63),
    (0.99,0.79),(0.99,0.47),(1.13,0.82),(1.23,0.47),(1.23,0.15),(1.44,0.26),(1.44,-0.01),(1.65,0.15),(1.65,-0.16),
    (1.86,0.39),(1.86,0.31),(1.86,0.05),(2.07,-0.16),(2.07,-0.43),(2.28,-0.32),(2.28,-0.51),(2.52,-0.64),(2.60,-0.70),
    (0.36,-0.38),(0.57,-0.56),(-0.20,-0.11),(1.34,-0.59),(1.48,-0.48)]
mag3_red_extra = [(-0.97,2.6),(-0.97,2.3),(-0.97,2.05),(-0.97,1.78),(-0.97,1.5),(-0.97,1.25),(-0.97,0.98),(-0.97,0.7),(-0.97,0.45),(-0.97,0.2),
    (-0.81,2.4),(-0.81,2.15),(-0.81,1.88),(-0.81,1.6),(-0.81,1.35),(-0.81,1.08),(-0.81,0.82),(-0.81,0.55),(-0.81,0.3),(-0.81,0.1),
    (-0.63,2.35),(-0.63,2.05),(-0.63,1.78),(-0.63,1.5),(-0.63,1.25),(-0.63,0.98),(-0.63,0.7),(-0.63,0.45),(-0.63,0.18),
    (-0.45,2.15),(-0.45,1.9),(-0.45,1.6),(-0.45,1.35),(-0.2,1.8),(-0.2,1.55),(0.02,1.55),(0.22,1.55),(0.22,1.35),(0.22,1.05),
    (0.44,1.25),(0.44,0.95),(0.44,0.6),(0.66,1.2),(0.66,0.85),(0.66,0.55),(0.88,0.85),(0.88,0.55),(1.08,0.65),(1.08,0.3),
    (1.34,0.35),(1.34,0.05),(1.55,0.2),(1.55,-0.1),(1.76,0.0),(1.76,-0.25),(1.97,-0.1),(1.97,-0.3),(2.18,-0.4),(2.4,-0.55)]
mag3_green = [(-0.37,2.07),(-0.44,1.83),(-0.51,1.43),(-0.27,1.48),(-0.06,1.38),(0.15,1.27),(0.29,1.06),(-0.51,1.11),(-0.51,0.79),(-0.51,0.47),(-0.51,0.15),(-0.44,-0.11),(-0.27,-0.27),(-0.27,1.11),(-0.27,0.74),(-0.27,0.37),(-0.27,0.05),(-0.06,0.95),(-0.06,0.58),(-0.06,0.21),(-0.06,-0.16),(0.15,0.79),(0.15,0.42),(0.15,0.05),(0.43,0.58),(0.57,1.01),(0.64,0.69),(0.78,0.37),(0.92,0.58),(0.99,0.10),(1.20,0.05),(1.41,-0.22),(1.51,-0.38),(1.76,-0.43),(1.90,-0.80),(0.92,-0.88),(1.06,-1.02),(0.92,-1.20),(0.78,-0.70),(1.58,-0.51)]
mag3_green_extra = [(-0.4,1.6),(-0.4,1.25),(-0.4,0.95),(-0.4,0.6),(-0.4,0.3),(-0.4,0.0),(-0.17,1.25),(-0.17,0.9),(-0.17,0.55),(-0.17,0.2),(-0.17,-0.05),
    (0.05,1.1),(0.05,0.75),(0.05,0.4),(0.05,0.1),(0.3,0.85),(0.3,0.5),(0.3,0.25),(0.5,0.8),(0.5,0.45),(0.5,0.15),(0.72,0.55),(0.72,0.15),(1.1,0.3),(1.1,-0.1)]
mag3_blue = [(0.08,0.66),(0.05,0.26),(0.15,0.18),(0.08,0.05),(0.26,0.37),(0.36,-0.01),(0.22,-0.16),(0.12,-0.24),(0.50,-0.06),(0.68,-0.01),(0.71,-0.24),(0.53,-0.43),(0.36,-0.54),(0.33,-0.64),(0.47,-0.72),(0.74,-0.64),(0.71,-1.10),(0.92,-0.30),(1.06,-0.43),(1.13,-0.30),(1.09,-0.75),(1.27,-0.30),(1.20,-0.56),(1.57,-0.70),(0.78,-1.39),(0.88,-1.40),(0.98,-1.52),(0.05,-0.48)]

tot3_red = [(0.07,2.56),(0.47,2.44),(0.67,2.41),(1.06,1.81),(1.86,1.24),(2.60,0.34),(2.51,0.43),
    (-1.04,2.92),(-1.04,2.65),(-1.04,2.39),(-1.04,2.12),(-1.04,1.86),(-1.04,1.59),(-1.04,1.32),(-1.04,1.06),
    (-0.86,2.97),(-0.86,2.71),(-0.86,2.44),(-0.86,2.18),(-0.86,1.91),(-0.86,1.64),(-0.86,1.38),
    (-0.69,2.92),(-0.69,2.65),(-0.69,2.39),(-0.69,2.12),(-0.69,1.86),(-0.69,1.59),(-0.69,1.32),
    (-0.48,2.81),(-0.48,2.55),(-0.48,2.28),(-0.27,2.55),(-0.27,2.34),(-0.27,2.10),(-0.06,2.39),(-0.06,2.18),
    (0.22,2.23),(0.22,1.96),(0.43,2.10),(0.43,1.86),(0.43,1.64),(0.71,1.75),(0.71,1.48),(0.71,1.22),
    (0.92,1.64),(0.92,1.38),(0.92,1.11),(1.13,1.43),(1.13,1.17),(1.13,0.90),(1.34,1.22),(1.34,0.95),
    (1.55,1.11),(1.55,0.85),(1.55,0.58),(1.76,1.01),(1.76,0.74),(1.97,0.79),(1.97,0.53),(2.18,0.63),(2.18,0.42),(2.32,0.26),
    (-0.69,1.09),(-0.97,1.09),(-0.02,0.58),(0.60,0.26)]
tot3_red_extra = [(-0.95,2.8),(-0.95,2.52),(-0.95,2.25),(-0.95,2.0),(-0.95,1.72),(-0.95,1.45),(-0.95,1.2),
    (-0.78,2.84),(-0.78,2.58),(-0.78,2.3),(-0.78,2.05),(-0.78,1.78),(-0.78,1.5),(-0.78,1.25),
    (-0.6,2.75),(-0.6,2.5),(-0.6,2.22),(-0.6,1.95),(-0.6,1.7),(-0.6,1.45),(-0.38,2.68),(-0.38,2.42),(-0.38,2.18),(-0.16,2.5),(-0.16,2.28),
    (0.08,2.3),(0.08,2.05),(0.32,2.15),(0.32,1.9),(0.57,1.95),(0.57,1.7),(0.57,1.4),(0.82,1.75),(0.82,1.5),(0.82,1.25),
    (1.03,1.55),(1.03,1.28),(1.03,1.0),(1.24,1.3),(1.24,1.05),(1.24,0.8),(1.45,1.2),(1.45,0.95),(1.45,0.7),(1.66,1.05),(1.66,0.8),(1.66,0.6),
    (1.87,0.9),(1.87,0.65),(2.08,0.7),(2.08,0.5),(2.25,0.5),(2.25,0.35)]
tot3_green = [(-0.37,2.89),(-0.41,2.49),(-0.48,2.12),(-0.23,2.20),(-0.44,1.86),(-0.27,1.91),(-0.06,2.02),(0.26,1.91),(0.43,1.70),(0.57,1.59),(-0.48,1.54),(-0.48,1.22),(-0.41,0.95),(-0.27,1.64),(-0.27,1.32),(-0.27,1.01),(-0.06,1.75),(-0.06,1.43),(-0.06,1.11),(0.15,1.64),(0.15,1.27),(0.36,1.43),(0.36,1.11),(0.57,1.22),(0.85,1.43),(0.78,1.01),(0.99,0.85),(1.20,0.90),(1.27,0.69),(1.55,0.53),(1.69,0.37),(1.90,0.10),(0.92,0.15),(1.06,0.26)]
tot3_green_extra = [(-0.37,1.75),(-0.37,1.45),(-0.37,1.15),(-0.17,1.85),(-0.17,1.5),(-0.17,1.2),(0.05,1.5),(0.05,1.2),(0.25,1.55),(0.25,1.3),(0.47,1.5),(0.47,1.25),(0.7,1.3),(0.7,1.1),(0.9,1.1),(1.1,0.95)]
tot3_blue = [(0.05,1.27),(0.01,0.95),(0.12,0.87),(0.22,0.79),(0.05,0.69),(0.22,0.63),(0.36,0.58),(0.33,0.50),(0.47,0.39),(0.57,0.63),(0.71,0.58),(0.67,0.29),(0.78,0.15),(0.92,0.05),(0.95,0.37),(1.06,0.26),(1.13,0.15),(1.27,0.26),(1.27,0.02),(1.38,0.39),(1.58,0.26),(0.85,0.53)]

# ---- row 4 : model Theta_cr 2 V10
th4_red = [(-0.93,2.91),(-0.83,2.92),(-0.04,2.63),(-0.49,2.51),(-0.49,2.26),(0.10,1.78),(0.10,1.53),(0.23,1.50),(1.27,0.68),(0.85,0.43),(1.44,0.10),(1.78,-0.16),(2.48,-0.42),(2.65,-0.66),(2.84,-0.66),(2.95,-0.85),(2.55,-0.21),
    (-1.00,2.39),(-1.00,2.18),(-1.00,1.96),(-1.00,1.75),(-1.00,1.54),(-1.00,1.33),(-1.00,1.12),(-1.00,0.90),
    (-0.86,2.50),(-0.86,2.28),(-0.86,2.07),(-0.86,1.86),(-0.86,1.65),(-0.86,1.43),(-0.86,1.22),(-0.86,1.01),(-0.86,0.90),
    (-0.69,2.33),(-0.69,2.12),(-0.69,1.91),(-0.69,1.70),(-0.69,1.49),(-0.69,1.28),(-0.69,1.06),(-0.69,0.85),
    (-0.51,2.18),(-0.51,1.96),(-0.51,1.75),(-0.51,1.54),(-0.51,1.33),(-0.34,1.96),(-0.34,1.70),(-0.34,1.49),(-0.34,1.28),
    (-0.13,1.65),(-0.13,1.38),(-0.13,1.12),(-0.13,0.90),(0.01,1.38),(0.01,1.17),(0.19,1.33),(0.19,1.06),(0.19,0.90),
    (0.36,1.01),(0.36,0.80),(0.57,0.90),(0.57,0.64),(0.71,0.53),(0.92,0.48),(1.06,0.27),(1.27,0.32),
    (-0.34,0.58),(-0.13,0.48),(0.71,0.05),(1.62,-0.08),(1.51,0.24),(2.11,-0.26),(2.11,-0.37),(2.32,-0.48),(2.53,-0.48)]
th4_red_extra = [(-0.93,2.4),(-0.93,2.18),(-0.93,1.96),(-0.93,1.75),(-0.93,1.54),(-0.93,1.33),(-0.93,1.12),(-0.93,0.92),
    (-0.77,2.4),(-0.77,2.18),(-0.77,1.96),(-0.77,1.75),(-0.77,1.54),(-0.77,1.33),(-0.77,1.12),(-0.77,0.92),
    (-0.6,2.25),(-0.6,2.05),(-0.6,1.85),(-0.6,1.62),(-0.6,1.4),(-0.6,1.2),(-0.6,1.0),(-0.43,2.05),(-0.43,1.85),(-0.43,1.62),(-0.43,1.4),(-0.43,1.2),
    (-0.24,1.8),(-0.24,1.55),(-0.24,1.35),(-0.24,1.1),(-0.05,1.5),(-0.05,1.25),(-0.05,1.05),(0.1,1.25),(0.1,1.0),(0.28,1.15),(0.28,0.95),
    (0.47,0.95),(0.47,0.75),(0.65,0.75),(0.82,0.6)]
th4_green = [(-0.30,2.20),(-0.49,1.83),(-0.28,1.85),(-0.34,1.59),(-0.20,1.43),(-0.48,1.38),(-0.41,1.17),(-0.55,0.96),(-0.34,1.06),(-0.55,0.80),(-0.34,0.80),(-0.13,0.74),(-0.27,0.64),(0.01,0.96),(0.47,0.90),(0.64,0.72),(0.15,0.69),(0.29,0.37),(0.50,0.32),(1.09,0.35),(1.35,0.29),(1.55,0.00),(1.69,-0.21),(1.97,-0.37),(2.53,-0.48),(2.63,-0.48),(2.75,-0.45),(2.46,-0.69),(2.25,-0.58)]
th4_blue = [(0.16,1.16),(0.22,0.98),(0.05,0.74),(0.12,0.58),(0.05,0.48),(0.15,0.32),(0.29,0.58),(0.33,0.37),(0.43,0.16),(0.40,-0.05),(0.57,0.21),(0.50,0.05),(0.67,0.05),(0.75,0.58),(0.85,0.10),(0.92,0.27),(1.06,0.00),(1.20,-0.10),(1.27,0.05),(1.41,-0.37),(1.48,-0.16),(1.65,-0.16),(1.93,-0.53),(2.11,-0.64),(2.39,-0.37),(2.51,-0.33),(2.30,-0.58)]

kin4_red = [(-0.49,2.84),(-0.03,2.55),(0.25,2.28),(-0.05,2.26),(-0.28,2.68),(0.13,2.18),(1.29,0.37),(1.40,0.45),(1.64,0.35),(1.68,0.20),(1.57,0.05),(2.74,-0.04),(2.94,-0.08),
    (-1.01,2.81),(-1.01,2.50),(-1.01,2.18),(-1.01,1.86),(-1.01,1.54),(-1.01,1.22),(-1.01,0.90),(-1.01,0.58),(-1.01,0.37),(-1.01,0.27),
    (-0.83,2.92),(-0.83,2.60),(-0.83,2.28),(-0.83,1.96),(-0.83,1.65),(-0.83,1.33),(-0.83,1.01),(-0.83,0.69),(-0.83,0.37),(-0.83,0.16),
    (-0.66,2.86),(-0.66,2.55),(-0.66,2.23),(-0.66,1.91),(-0.66,1.59),(-0.66,1.28),(-0.66,0.96),(-0.66,0.64),(-0.66,0.32),
    (-0.45,2.60),(-0.45,2.28),(-0.45,1.96),(-0.45,1.65),(-0.24,2.39),(-0.24,2.07),(-0.24,1.75),(-0.24,1.49),
    (-0.03,1.96),(-0.03,1.65),(-0.03,1.38),(0.18,1.75),(0.18,1.49),(0.18,1.22),(0.39,1.54),(0.39,1.28),(0.39,1.06),
    (0.60,1.17),(0.60,0.96),(0.80,1.06),(0.80,0.80),(0.80,0.58),(1.01,0.85),(1.01,0.58),(1.01,0.37),(1.22,0.58),(1.22,0.27),(1.43,0.37),
    (-0.73,0.14),(2.55,-0.11),(2.76,-0.16),(2.62,-0.26)]
kin4_red_extra = [(-0.92,2.86),(-0.92,2.55),(-0.92,2.24),(-0.92,1.92),(-0.92,1.6),(-0.92,1.28),(-0.92,0.96),(-0.92,0.64),(-0.92,0.4),
    (-0.75,2.72),(-0.75,2.4),(-0.75,2.08),(-0.75,1.76),(-0.75,1.44),(-0.75,1.12),(-0.75,0.8),(-0.75,0.5),(-0.75,0.25),
    (-0.55,2.75),(-0.55,2.45),(-0.55,2.12),(-0.55,1.8),(-0.55,1.5),(-0.55,1.2),(-0.55,0.9),(-0.55,0.6),
    (-0.35,2.45),(-0.35,2.12),(-0.35,1.8),(-0.35,1.5),(-0.13,2.2),(-0.13,1.9),(-0.13,1.6),(0.08,1.85),(0.08,1.55),(0.08,1.3),
    (0.28,1.65),(0.28,1.38),(0.28,1.12),(0.5,1.4),(0.5,1.15),(0.5,0.9),(0.7,1.1),(0.7,0.88),(0.7,0.7),(0.9,0.95),(0.9,0.7),(0.9,0.48),
    (1.12,0.72),(1.12,0.45),(1.32,0.5)]
kin4_green = [(-0.29,2.10),(-0.36,1.49),(0.18,1.30),(-0.45,1.22),(-0.45,0.90),(-0.45,0.58),(-0.45,0.27),(-0.45,0.03),(-0.31,-0.05),(-0.24,1.12),(-0.24,0.80),(-0.24,0.48),(-0.24,0.16),(-0.10,-0.11),(-0.03,1.06),(-0.03,0.74),(-0.03,0.42),(0.18,0.96),(0.18,0.58),(0.39,0.85),(0.39,0.48),(0.63,0.90),(0.67,0.48),(0.81,0.58),(1.12,0.64),(1.36,0.69),(0.46,-0.21),(0.95,0.10),(1.71,0.16),(1.92,-0.21),(2.48,0.03),(2.62,-0.13),(2.72,-0.37),(2.83,-0.40),(1.92,-0.42)]
kin4_green_extra = [(-0.35,1.35),(-0.35,1.05),(-0.35,0.75),(-0.35,0.42),(-0.35,0.12),(-0.12,1.2),(-0.12,0.9),(-0.12,0.6),(-0.12,0.3),(-0.12,0.0),
    (0.08,1.15),(0.08,0.85),(0.08,0.55),(0.3,1.05),(0.3,0.7),(0.3,0.35),(0.55,0.7),(0.55,0.35),(0.78,0.75),(0.78,0.4),(1.0,0.45)]
kin4_blue = [(0.16,1.04),(0.11,0.69),(0.13,0.35),(0.20,0.32),(0.35,0.35),(0.74,0.72),(0.67,0.50),(0.04,0.07),(0.13,0.05),(0.11,-0.11),(0.07,-0.27),(0.07,-0.43),(0.25,0.10),(0.42,0.16),(0.42,-0.05),(0.46,-0.27),(0.49,-0.43),(0.60,0.05),(0.60,-0.08),(0.74,-0.16),(0.94,-0.11),(1.08,-0.16),(1.05,0.05),(1.05,-0.40),(1.22,-0.16),(1.22,0.08),(1.22,-0.53),(1.36,-0.53),(1.43,0.05),(1.43,-0.11),(1.50,-0.29),(1.57,-0.43),(1.64,-0.48),(2.03,-0.24),(2.20,-0.24),(2.37,-0.43),(2.48,-0.40)]

mag4_red = [(-0.90,2.94),(-0.51,2.89),(-0.06,2.91),(-0.14,2.61),(-0.30,2.36),(-0.27,2.22),(0.11,1.93),(0.23,1.93),(0.29,1.70),(1.27,0.65),(1.48,0.22),(1.77,-0.10),(2.42,-0.56),(2.69,-0.51),(2.75,-0.72),(2.93,-0.64),(2.53,-0.47),(2.96,-0.87),(2.78,-0.89),
    (-1.04,2.46),(-1.04,2.19),(-1.04,1.93),(-1.04,1.66),(-1.04,1.39),(-0.97,2.78),(-0.97,2.56),(-0.97,1.13),
    (-0.86,2.67),(-0.86,2.40),(-0.86,2.14),(-0.86,1.87),(-0.86,1.61),(-0.86,1.34),(-0.86,1.13),
    (-0.69,2.72),(-0.69,2.46),(-0.69,2.19),(-0.69,1.93),(-0.69,1.66),(-0.69,1.39),(-0.69,1.13),
    (-0.51,2.40),(-0.51,2.14),(-0.51,1.87),(-0.51,1.61),(-0.34,2.09),(-0.34,1.82),(-0.34,1.55),(-0.34,1.34),
    (-0.13,1.82),(-0.13,1.55),(-0.13,1.29),(0.08,1.50),(0.08,1.23),(0.08,1.02),(0.29,1.23),(0.29,0.97),(0.29,0.76),
    (0.50,1.02),(0.50,0.76),(0.50,0.54),(0.71,0.81),(0.71,0.60),(0.92,0.60),(0.92,0.38),(1.06,0.38),(1.06,0.17),
    (1.27,0.28),(1.27,0.06),(1.51,0.06),(1.69,-0.10),(-0.83,1.02)]
mag4_red_extra = [(-0.99,2.6),(-0.99,2.32),(-0.99,2.06),(-0.99,1.8),(-0.99,1.52),(-0.99,1.25),(-0.92,2.65),(-0.92,2.0),(-0.92,1.45),
    (-0.78,2.55),(-0.78,2.28),(-0.78,2.0),(-0.78,1.74),(-0.78,1.48),(-0.78,1.22),(-0.6,2.55),(-0.6,2.3),(-0.6,2.05),(-0.6,1.78),(-0.6,1.5),(-0.6,1.25),
    (-0.43,2.25),(-0.43,2.0),(-0.43,1.72),(-0.43,1.48),(-0.24,1.95),(-0.24,1.68),(-0.24,1.42),(-0.03,1.68),(-0.03,1.4),(-0.03,1.15),
    (0.18,1.35),(0.18,1.1),(0.18,0.9),(0.4,1.1),(0.4,0.88),(0.4,0.65),(0.6,0.9),(0.6,0.7),(0.82,0.7),(0.82,0.5),(1.0,0.5),(1.0,0.28),(1.17,0.3),(1.4,0.15)]
mag4_green = [(-0.28,1.86),(-0.28,1.74),(-0.48,1.63),(-0.20,1.55),(-0.07,1.50),(-0.39,1.45),(-0.27,1.37),(-0.51,1.18),(-0.51,0.91),(-0.51,0.65),(-0.34,0.25),(-0.30,1.02),(-0.30,0.76),(-0.30,0.49),(-0.09,0.91),(-0.09,0.65),(-0.09,0.38),(0.12,0.76),(0.29,0.60),(0.43,0.49),(0.64,0.33),(0.85,0.17),(0.99,0.06),(1.13,-0.04),(1.34,0.12),(1.38,-0.10),(1.45,-0.28),(1.62,-0.47),(1.73,-0.52),(1.83,-0.57),(1.93,-0.68),(2.11,-0.79),(2.25,-0.73),(2.39,-0.95),(2.60,-1.05),(2.67,-1.16),(2.77,-1.13),(2.81,-1.00),(0.08,0.52),(0.71,0.60)]
mag4_blue = [(0.12,0.81),(0.12,0.68),(0.19,0.49),(0.35,0.48),(0.05,0.09),(0.12,0.33),(0.12,0.17),(0.22,0.20),(0.15,-0.18),(0.19,-0.28),(0.33,-0.28),(0.29,0.06),(0.36,0.01),(0.47,-0.41),(0.40,-0.55),(0.50,-0.10),(0.57,0.28),(0.68,0.17),(0.78,-0.20),(0.92,-0.31),(1.06,-0.47),(0.99,-0.36),(1.20,-0.41),(1.23,-0.87),(1.34,-0.92),(1.48,-0.68),(1.62,-0.84),(2.00,-0.95),(2.11,-1.00),(2.35,-1.19),(2.42,-1.27),(2.51,-1.32),(0.71,-0.41),(1.06,-0.63)]

tot4_red = [(-0.13,2.75),(0.23,2.48),(0.09,2.30),(0.09,2.06),(1.27,1.15),(1.51,0.81),(1.60,0.70),(1.77,0.60),(2.44,0.14),(2.67,0.12),(2.78,0.04),(2.94,0.06),(2.84,-0.07),(2.53,0.04),(2.21,0.04),
    (-1.04,2.88),(-1.04,2.62),(-1.04,2.35),(-1.04,2.09),(-1.04,1.82),(-1.04,1.55),
    (-0.86,2.99),(-0.86,2.72),(-0.86,2.46),(-0.86,2.19),(-0.86,1.93),(-0.86,1.66),(-0.86,1.45),
    (-0.69,2.94),(-0.69,2.67),(-0.69,2.40),(-0.69,2.14),(-0.69,1.87),(-0.69,1.61),
    (-0.48,2.83),(-0.48,2.56),(-0.48,2.30),(-0.48,2.03),(-0.27,2.67),(-0.27,2.40),(-0.27,2.14),(-0.27,1.87),
    (-0.06,2.35),(-0.06,2.09),(-0.06,1.82),(0.15,1.93),(0.15,1.66),(0.36,1.66),(0.36,1.39),(0.57,1.50),(0.57,1.23),
    (0.78,1.34),(0.78,1.07),(0.78,0.81),(0.99,1.02),(0.99,0.81),(1.16,0.89),(1.48,0.70),(-0.93,1.42)]
tot4_red_extra = [(-0.95,2.75),(-0.95,2.48),(-0.95,2.22),(-0.95,1.95),(-0.95,1.68),(-0.78,2.85),(-0.78,2.6),(-0.78,2.32),(-0.78,2.06),(-0.78,1.8),(-0.78,1.55),
    (-0.6,2.8),(-0.6,2.54),(-0.6,2.28),(-0.6,2.0),(-0.6,1.74),(-0.38,2.7),(-0.38,2.44),(-0.38,2.16),(-0.38,1.9),(-0.16,2.5),(-0.16,2.22),(-0.16,1.95),
    (0.05,2.2),(0.05,1.95),(0.05,1.7),(0.25,1.8),(0.25,1.55),(0.47,1.58),(0.47,1.32),(0.68,1.42),(0.68,1.15),(0.88,1.2),(0.88,0.95),(1.08,1.0),(1.08,0.8),(1.3,0.85)]
tot4_green = [(-0.30,2.56),(-0.49,2.11),(-0.28,2.11),(-0.41,1.82),(-0.17,1.79),(-0.48,1.66),(-0.48,1.39),(-0.37,1.13),(-0.27,1.66),(-0.27,1.34),(-0.27,1.02),(-0.06,1.66),(-0.06,1.39),(0.15,1.55),(0.18,1.34),(0.43,1.34),(0.61,1.23),(0.47,1.02),(1.06,0.91),(1.34,0.97),(0.71,0.76),(0.99,0.65),(1.27,0.54),(1.62,0.28),(1.79,0.20),(1.96,0.14),(2.17,0.06),(2.45,0.14),(2.59,-0.04),(2.77,-0.20),(2.80,-0.26),(1.83,0.01)]
tot4_blue = [(0.14,1.50),(0.13,1.37),(0.19,1.13),(0.08,0.97),(0.22,0.97),(0.05,0.78),(0.22,0.73),(0.36,0.76),(0.19,0.57),(0.40,0.38),(0.50,0.60),(0.64,0.76),(0.71,0.60),(0.57,0.49),(0.78,0.57),(0.92,0.44),(0.99,0.36),(1.09,0.33),(1.20,0.28),(1.23,0.49),(1.27,0.01),(1.34,0.04),(1.44,0.20),(1.55,0.12),(2.00,-0.04),(2.17,-0.02),(2.38,-0.10),(2.49,-0.10)]

# フィット (M=1 での値, べき) : 順番は red, green, blue
fit_th_norm = [10.9, 7.5, 5.1]
fit_kin_norm = [4.3, 2.0, 0.93]
fit_mag_norm = [[2.2, 1.5, 1.03], [3.9, 1.9, 1.15], [8.9, 3.0, 1.37], [8.9, 2.9, 1.37]]
slope_th = -2.0 / 3.0
slope_kin = -1.0 / 3.0
slope_mag = -2.0 / 3.0

model_names = ['0.25V5', '2V5', '0.25V10', '2V10']
col_titles = [r'thermal $\alpha$ parameter', r'kinetic $\alpha$ parameter',
              r'magnetic $\alpha$ parameter', r'$\alpha$ parameter']
col_ylabels = [r'$\alpha_{\rm th}$', r'$\alpha_{\rm kin}$', r'$\alpha_{\rm mag}$',
               r'$\alpha_{\rm tot} = \alpha_{\rm th} + \alpha_{\rm kin} + \alpha_{\rm mag}$']

data = [
    [(th1_red + th1_red_extra, th1_green, th1_blue),
     (kin1_red + kin1_red_extra, kin1_green + kin1_green_extra, kin1_blue),
     (mag1_red + mag1_red_extra, mag1_green + mag1_green_extra, mag1_blue),
     (tot1_red + tot1_red_extra, tot1_green, tot1_blue)],
    [(th2_red + th2_red_extra, th2_green, th2_blue),
     (kin2_red + kin2_red_extra, kin2_green + kin2_green_extra, kin2_blue),
     (mag2_red + mag2_red_extra, mag2_green + mag2_green_extra, mag2_blue),
     (tot2_red + tot2_red_extra, tot2_green, tot2_blue)],
    [(th3_red + th3_red_extra, th3_green, th3_blue),
     (kin3_red + kin3_red_extra, kin3_green + kin3_green_extra, kin3_blue),
     (mag3_red + mag3_red_extra, mag3_green + mag3_green_extra, mag3_blue),
     (tot3_red + tot3_red_extra, tot3_green + tot3_green_extra, tot3_blue)],
    [(th4_red + th4_red_extra, th4_green, th4_blue),
     (kin4_red + kin4_red_extra, kin4_green + kin4_green_extra, kin4_blue),
     (mag4_red + mag4_red_extra, mag4_green, mag4_blue),
     (tot4_red + tot4_red_extra, tot4_green, tot4_blue)],
]

colors = ['red', 'lightgreen', 'blue']

W, H = 1547, 1532
fig = plt.figure(figsize=(W / 100, H / 100), dpi=100)
col_left = [77, 458.5, 840, 1222]
row_top = [29, 405, 781, 1157]
aw, ah = 305, 314


def fit_curve(m, r, c, k):
    th = fit_th_norm[k] * m ** slope_th
    kin = fit_kin_norm[k] * m ** slope_kin
    mag = fit_mag_norm[r][k] * m ** slope_mag
    return [th, kin, mag, th + kin + mag][c]


mm = np.logspace(np.log10(0.05), 3, 200)

for r in range(4):
    for c in range(4):
        ax = fig.add_axes([col_left[c] / W, 1 - (row_top[r] + ah) / H, aw / W, ah / H])
        ax.set_xscale('log')
        ax.set_yscale('log')
        for k, pts in enumerate(data[r][c]):
            p = 10 ** np.array(pts)
            ax.scatter(p[:, 0], p[:, 1], s=32, facecolors='white', edgecolors=colors[k],
                       linewidths=2.7, zorder=2 + k)
        for k in range(3):
            ax.plot(mm, fit_curve(mm, r, c, k), '--', color=colors[k], lw=1.5, zorder=6)
            p = 10 ** np.array(data[r][c][k])
            mw = np.logspace(np.log10(p[:, 0].min()), np.log10(p[:, 0].max()), 50)
            for f in (10 ** 0.05, 10 ** -0.05):
                ax.plot(mw, fit_curve(mw, r, c, k) * f, '--', color='white', lw=1.0, zorder=7)
        ax.set_xlim(0.05, 1000)
        ax.set_ylim(0.01, 1000)
        ax.tick_params(labelsize=13)
        ax.set_xlabel(r'$M_{\rm cl}\ [M_\odot]$', fontsize=17, labelpad=2)
        ax.set_ylabel(col_ylabels[c], fontsize=17, labelpad=2)
        ax.text(0.94, 0.925, r'model $\Theta_{\rm cr}$' + model_names[r], transform=ax.transAxes,
                ha='right', va='center', fontsize=13)
        if r == 0:
            ax.set_title(col_titles[c], fontsize=15, pad=3)

fig.savefig('out.png', dpi=100)
